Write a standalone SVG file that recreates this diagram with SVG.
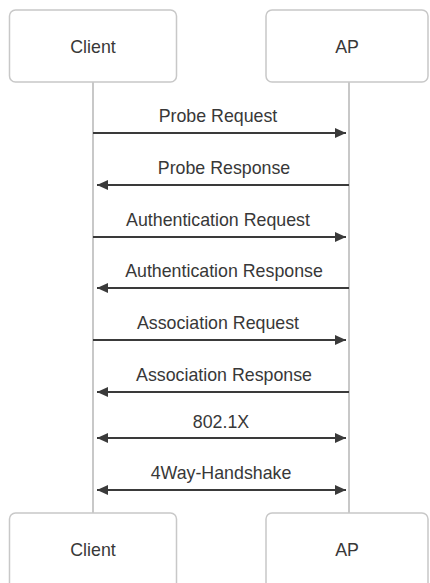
<svg xmlns="http://www.w3.org/2000/svg" width="430" height="583" viewBox="0 0 430 583">
<defs>
<style>
.box{fill:#fff;stroke:#c8c8c8;stroke-width:1.5}
.life{stroke:#c8c8c8;stroke-width:2;fill:none}
.msg{stroke:#3a3a3a;stroke-width:2;fill:none}
text{font-family:"Liberation Sans",Arial,sans-serif;font-size:17.8px;fill:#383838;text-anchor:middle}
</style>
<marker id="ah" viewBox="0 0 10 10" refX="10" refY="5" markerWidth="11" markerHeight="10" markerUnits="userSpaceOnUse" orient="auto-start-reverse" preserveAspectRatio="none">
<path d="M0,0 L10,5 L0,10 z" fill="#3a3a3a"/>
</marker>
</defs>
<rect width="430" height="583" fill="#fff"/>
<g id="lifelines">
<line class="life" x1="93" y1="82" x2="93" y2="513"/>
<line class="life" x1="349" y1="82" x2="349" y2="513"/>
</g>
<g id="client-top"><rect class="box" x="9.5" y="10" width="167" height="72" rx="6"/><text x="93" y="53">Client</text></g>
<g id="ap-top"><rect class="box" x="266" y="10" width="162" height="72" rx="6"/><text x="347" y="53">AP</text></g>
<g id="client-bottom"><rect class="box" x="9.5" y="513" width="167" height="80" rx="6"/><text x="93" y="556">Client</text></g>
<g id="ap-bottom"><rect class="box" x="266" y="513" width="162" height="80" rx="6"/><text x="347" y="556">AP</text></g>
<g id="connectors">
<line class="msg" x1="93" y1="133" x2="346" y2="133" marker-end="url(#ah)"/>
<line class="msg" x1="349" y1="185" x2="97" y2="185" marker-end="url(#ah)"/>
<line class="msg" x1="93" y1="237" x2="346" y2="237" marker-end="url(#ah)"/>
<line class="msg" x1="349" y1="288" x2="97" y2="288" marker-end="url(#ah)"/>
<line class="msg" x1="93" y1="340" x2="346" y2="340" marker-end="url(#ah)"/>
<line class="msg" x1="349" y1="392" x2="97" y2="392" marker-end="url(#ah)"/>
<line class="msg" x1="97" y1="438" x2="346" y2="438" marker-start="url(#ah)" marker-end="url(#ah)"/>
<line class="msg" x1="97" y1="490" x2="346" y2="490" marker-start="url(#ah)" marker-end="url(#ah)"/>
</g>
<g id="labels">
<text x="218" y="122">Probe Request</text>
<text x="224" y="174">Probe Response</text>
<text x="218" y="226">Authentication Request</text>
<text x="224" y="277">Authentication Response</text>
<text x="218" y="329">Association Request</text>
<text x="224" y="381">Association Response</text>
<text x="221" y="428">802.1X</text>
<text x="221" y="479">4Way-Handshake</text>
</g>
</svg>
